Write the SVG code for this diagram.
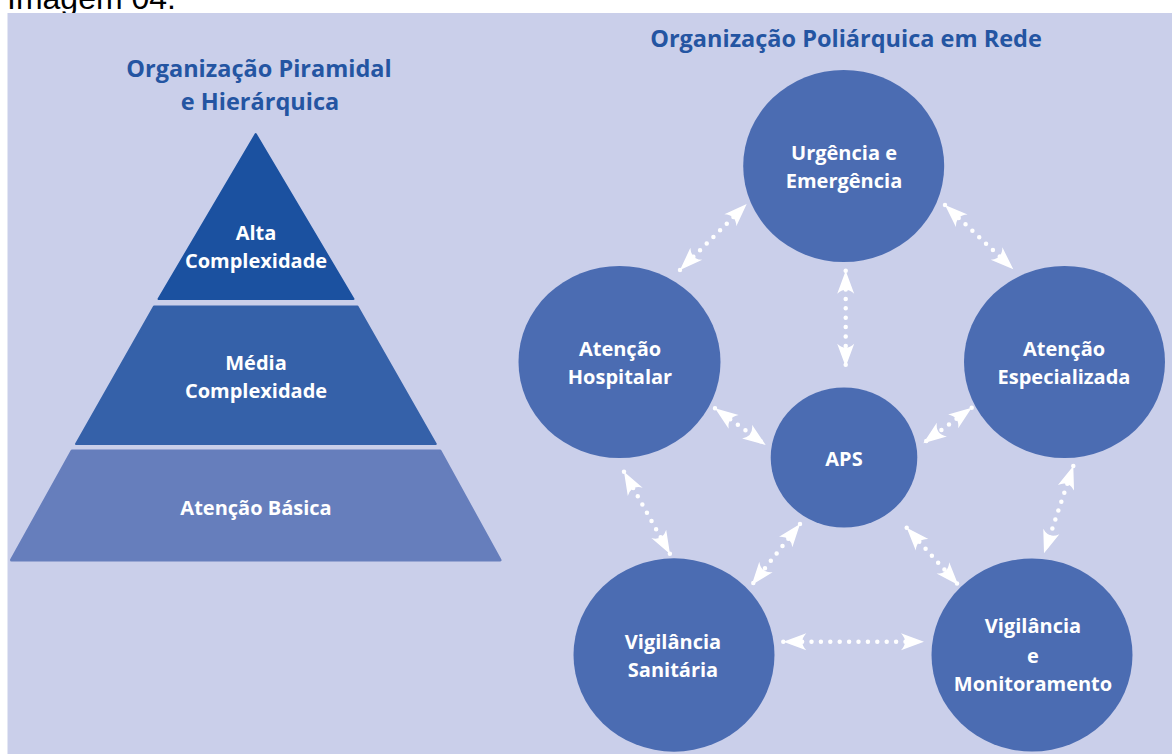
<svg xmlns="http://www.w3.org/2000/svg" width="1172" height="754" viewBox="0 0 1172 754">
  <style>
    .caption { font-family: "Liberation Sans", Arial, sans-serif; font-size: 32px; fill: #000; }
    .title { font-family: "Open Sans", "Noto Sans", sans-serif; font-weight: 700; font-size: 23.5px; fill: #2455a2; text-anchor: middle; }
    .label { font-family: "Open Sans", "Noto Sans", sans-serif; font-weight: 700; font-size: 20px; fill: #ffffff; text-anchor: middle; }
    .node { fill: #4b6cb2; }
    .link { stroke: #ffffff; stroke-width: 4.5; stroke-linecap: round; stroke-dasharray: 0 9.4; fill: none; marker-start: url(#head); marker-end: url(#head); }
  </style>
  <defs>
    <marker id="head" viewBox="-25 -10 27 20" refX="0" refY="0" markerWidth="27" markerHeight="20" markerUnits="userSpaceOnUse" orient="auto-start-reverse">
      <path d="M0,0 L-23,-8.5 Q-15,0 -23,8.5 Z" fill="#ffffff"/>
    </marker>
  </defs>

  <rect width="1172" height="754" fill="#ffffff"/>
  <text class="caption" x="7" y="9">Imagem 04.</text>
  <rect x="7.5" y="13" width="1164.5" height="741" fill="#cacfea"/>

  <!-- Pyramid model -->
  <g id="pyramid-title">
    <text class="title" x="259" y="77">Organização Piramidal</text>
    <text class="title" x="260" y="110">e Hierárquica</text>
  </g>
  <g id="alta-complexidade">
    <polygon points="255.7,134 353.5,299 158.5,299" fill="#1b51a0" stroke="#1b51a0" stroke-width="2" stroke-linejoin="round"/>
    <text class="label" x="256" y="240">Alta</text>
    <text class="label" x="256" y="268">Complexidade</text>
  </g>
  <g id="media-complexidade">
    <polygon points="154,306.5 357.5,306.5 435.8,444 76,444" fill="#3561a9" stroke="#3561a9" stroke-width="2" stroke-linejoin="round"/>
    <text class="label" x="256" y="370">Média</text>
    <text class="label" x="256" y="398">Complexidade</text>
  </g>
  <g id="atencao-basica">
    <polygon points="72,451 440,451 500,560 11.5,560" fill="#667ebc" stroke="#667ebc" stroke-width="3" stroke-linejoin="round"/>
    <text class="label" x="256" y="515">Atenção Básica</text>
  </g>

  <!-- Network model -->
  <g id="network-title">
    <text class="title" x="846" y="47">Organização Poliárquica em Rede</text>
  </g>

  <g id="connectors">
    <line class="link" x1="680" y1="270" x2="746.7" y2="204"/>
    <line class="link" x1="845.7" y1="270.7" x2="845.7" y2="366.7"/>
    <line class="link" x1="945" y1="205" x2="1013.3" y2="269.3"/>
    <line class="link" x1="971.7" y1="407.7" x2="923.3" y2="443.3"/>
    <line class="link" x1="1073.3" y1="466" x2="1044" y2="553.3"/>
    <line class="link" x1="715" y1="408.3" x2="765.7" y2="445"/>
    <line class="link" x1="624" y1="471.7" x2="670" y2="554"/>
    <line class="link" x1="800" y1="524" x2="751.7" y2="585"/>
    <line class="link" x1="906.7" y1="527.7" x2="958.3" y2="585"/>
    <line class="link" x1="783.3" y1="641.7" x2="924" y2="641.7"/>
  </g>

  <g id="urgencia-emergencia">
    <ellipse class="node" cx="843.7" cy="166" rx="100.5" ry="96"/>
    <text class="label" x="844" y="160">Urgência e</text>
    <text class="label" x="844" y="188">Emergência</text>
  </g>
  <g id="atencao-hospitalar">
    <ellipse class="node" cx="619.5" cy="362" rx="101" ry="96"/>
    <text class="label" x="620" y="356">Atenção</text>
    <text class="label" x="620" y="384">Hospitalar</text>
  </g>
  <g id="atencao-especializada">
    <ellipse class="node" cx="1064.5" cy="362" rx="100.5" ry="96"/>
    <text class="label" x="1064" y="356">Atenção</text>
    <text class="label" x="1064" y="384">Especializada</text>
  </g>
  <g id="aps">
    <ellipse class="node" cx="844" cy="457.5" rx="73.3" ry="70"/>
    <text class="label" x="844" y="466">APS</text>
  </g>
  <g id="vigilancia-sanitaria">
    <ellipse class="node" cx="674" cy="655" rx="100.5" ry="96.7"/>
    <text class="label" x="673" y="649">Vigilância</text>
    <text class="label" x="673" y="677">Sanitária</text>
  </g>
  <g id="vigilancia-monitoramento">
    <ellipse class="node" cx="1032" cy="655" rx="100.5" ry="96.5"/>
    <text class="label" x="1033" y="633">Vigilância</text>
    <text class="label" x="1033" y="663">e</text>
    <text class="label" x="1033" y="691">Monitoramento</text>
  </g>
</svg>
